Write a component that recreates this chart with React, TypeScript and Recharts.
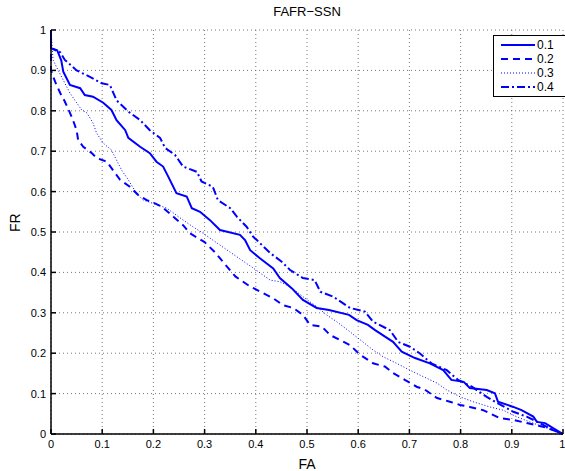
import {
  LineChart,
  Line,
  XAxis,
  YAxis,
  CartesianGrid,
} from 'recharts';

// FA / FR pairs per threshold
const faSeries01 = [0, 0, 0.012, 0.02, 0.024, 0.037, 0.057, 0.066, 0.082, 0.102, 0.118, 0.128, 0.145, 0.151, 0.174, 0.193, 0.206, 0.219, 0.229, 0.245, 0.265, 0.275, 0.291, 0.31, 0.33, 0.369, 0.379, 0.389, 0.408, 0.434, 0.447, 0.47, 0.492, 0.519, 0.543, 0.582, 0.597, 0.619, 0.633, 0.668, 0.685, 0.711, 0.74, 0.766, 0.782, 0.806, 0.818, 0.851, 0.867, 0.873, 0.903, 0.919, 0.942, 0.949, 0.965, 0.98, 1];
const frSeries01 = [1, 0.955, 0.95, 0.925, 0.897, 0.864, 0.856, 0.839, 0.835, 0.82, 0.802, 0.777, 0.752, 0.733, 0.711, 0.695, 0.674, 0.662, 0.637, 0.596, 0.588, 0.559, 0.55, 0.53, 0.505, 0.493, 0.48, 0.455, 0.435, 0.41, 0.386, 0.361, 0.332, 0.312, 0.307, 0.295, 0.282, 0.27, 0.257, 0.228, 0.204, 0.188, 0.175, 0.158, 0.134, 0.129, 0.114, 0.109, 0.101, 0.08, 0.067, 0.059, 0.043, 0.03, 0.027, 0.015, 0];

const faSeries02 = [0, 0, 0.008, 0.018, 0.027, 0.037, 0.043, 0.05, 0.053, 0.063, 0.08, 0.089, 0.109, 0.121, 0.135, 0.154, 0.17, 0.187, 0.203, 0.216, 0.239, 0.258, 0.271, 0.287, 0.3, 0.32, 0.34, 0.36, 0.389, 0.414, 0.434, 0.453, 0.473, 0.492, 0.506, 0.529, 0.545, 0.564, 0.584, 0.604, 0.629, 0.652, 0.668, 0.691, 0.714, 0.73, 0.754, 0.779, 0.799, 0.818, 0.844, 0.877, 0.903, 0.929, 0.961, 0.98, 1];
const frSeries02 = [1, 0.9, 0.872, 0.844, 0.823, 0.795, 0.777, 0.752, 0.728, 0.711, 0.695, 0.683, 0.674, 0.653, 0.629, 0.612, 0.592, 0.579, 0.571, 0.563, 0.538, 0.517, 0.497, 0.485, 0.475, 0.45, 0.42, 0.39, 0.365, 0.349, 0.336, 0.319, 0.312, 0.295, 0.27, 0.266, 0.245, 0.233, 0.22, 0.196, 0.175, 0.167, 0.151, 0.134, 0.117, 0.11, 0.089, 0.08, 0.072, 0.067, 0.059, 0.039, 0.035, 0.027, 0.018, 0.01, 0];

const faSeries03 = [0, 0.004, 0.014, 0.024, 0.037, 0.05, 0.06, 0.07, 0.082, 0.089, 0.102, 0.118, 0.128, 0.138, 0.151, 0.167, 0.18, 0.199, 0.226, 0.252, 0.277, 0.297, 0.316, 0.35, 0.389, 0.428, 0.447, 0.467, 0.492, 0.519, 0.538, 0.558, 0.584, 0.604, 0.629, 0.649, 0.675, 0.701, 0.727, 0.754, 0.773, 0.799, 0.824, 0.857, 0.883, 0.909, 0.935, 0.961, 1];
const frSeries03 = [1, 0.926, 0.9, 0.876, 0.844, 0.82, 0.802, 0.795, 0.77, 0.745, 0.72, 0.703, 0.678, 0.653, 0.629, 0.596, 0.579, 0.571, 0.559, 0.535, 0.513, 0.497, 0.48, 0.45, 0.416, 0.381, 0.377, 0.365, 0.34, 0.315, 0.295, 0.278, 0.253, 0.233, 0.208, 0.191, 0.175, 0.158, 0.142, 0.126, 0.109, 0.092, 0.08, 0.067, 0.059, 0.043, 0.03, 0.018, 0];

const faSeries04 = [0, 0, 0.018, 0.027, 0.05, 0.076, 0.099, 0.115, 0.128, 0.151, 0.174, 0.193, 0.213, 0.223, 0.242, 0.258, 0.285, 0.294, 0.316, 0.326, 0.35, 0.363, 0.382, 0.395, 0.402, 0.428, 0.45, 0.467, 0.492, 0.515, 0.526, 0.551, 0.584, 0.613, 0.629, 0.662, 0.678, 0.701, 0.72, 0.743, 0.773, 0.795, 0.822, 0.851, 0.871, 0.903, 0.929, 0.955, 0.98, 1];
const frSeries04 = [1, 0.955, 0.945, 0.926, 0.9, 0.884, 0.868, 0.864, 0.826, 0.798, 0.777, 0.752, 0.733, 0.708, 0.691, 0.662, 0.649, 0.625, 0.612, 0.579, 0.559, 0.538, 0.513, 0.488, 0.48, 0.448, 0.427, 0.406, 0.386, 0.381, 0.352, 0.34, 0.312, 0.303, 0.278, 0.257, 0.228, 0.216, 0.2, 0.175, 0.158, 0.134, 0.117, 0.092, 0.077, 0.055, 0.043, 0.027, 0.01, 0];

const axisTicks = [0, 0.1, 0.2, 0.3, 0.4, 0.5, 0.6, 0.7, 0.8, 0.9, 1];

const toPoints = (fa: number[], fr: number[]) => fa.map((x, i) => ({ fa: x, fr: fr[i] }));

const series = [
  { name: '0.1', data: toPoints(faSeries01, frSeries01), dash: undefined, width: 2 },
  { name: '0.2', data: toPoints(faSeries02, frSeries02), dash: '7 5', width: 2 },
  { name: '0.3', data: toPoints(faSeries03, frSeries03), dash: '1 2', width: 1 },
  { name: '0.4', data: toPoints(faSeries04, frSeries04), dash: '8 3 2 3', width: 2 },
];

const FONT = '"Liberation Sans", Arial, sans-serif';
const BLUE = '#0000ff';

function LegendBox() {
  return (
    <div
      style={{
        position: 'absolute',
        top: 35,
        left: 493,
        width: 68,
        border: '1.5px solid #000',
        background: '#fff',
        padding: '2px 0 2px 4px',
        fontFamily: FONT,
        fontSize: 12,
        lineHeight: '14px',
        color: '#000',
      }}
    >
      {series.map((s) => (
        <div key={s.name} style={{ display: 'flex', alignItems: 'center' }}>
          <svg width={38} height={14}>
            <line
              x1={3}
              x2={37}
              y1={7}
              y2={7}
              stroke={BLUE}
              strokeWidth={s.width}
              strokeDasharray={s.dash}
            />
          </svg>
          <span style={{ marginLeft: 1 }}>{s.name}</span>
        </div>
      ))}
    </div>
  );
}

export default function App() {
  return (
    <div style={{ position: 'fixed', left: 0, top: 0, width: 565, height: 471, background: '#fff' }}>
      <div
        style={{
          position: 'absolute',
          top: 4,
          left: 51,
          width: 512,
          textAlign: 'center',
          fontFamily: FONT,
          fontSize: 13,
          color: '#000',
        }}
      >
        FAFR−SSN
      </div>
      <LineChart width={565} height={471} margin={{ top: 30, right: 2, bottom: 12, left: 21 }}>
        <CartesianGrid stroke="#555" strokeDasharray="1 3" strokeWidth={0.8} />
        <XAxis
          type="number"
          dataKey="fa"
          domain={[0, 1]}
          ticks={axisTicks}
          height={25}
          stroke="#000"
          strokeWidth={1.5}
          tickSize={-5}
          tickMargin={11}
          tick={{ fill: '#000', fontSize: 11, fontFamily: FONT }}
          label={{ value: 'FA', position: 'insideBottom', offset: -10, fill: '#000', fontSize: 14, fontFamily: FONT }}
        />
        <XAxis
          xAxisId="top"
          orientation="top"
          type="number"
          domain={[0, 1]}
          ticks={axisTicks}
          height={0}
          stroke="#000"
          strokeWidth={1.5}
          tickSize={-5}
          tick={false}
        />
        <YAxis
          type="number"
          domain={[0, 1]}
          ticks={axisTicks}
          width={30}
          stroke="#000"
          strokeWidth={1.5}
          tickSize={-5}
          tickMargin={10}
          tick={{ fill: '#000', fontSize: 11, fontFamily: FONT }}
          label={{ value: 'FR', angle: -90, position: 'insideLeft', offset: -6, fill: '#000', fontSize: 14, fontFamily: FONT }}
        />
        <YAxis
          yAxisId="right"
          orientation="right"
          type="number"
          domain={[0, 1]}
          ticks={axisTicks}
          width={0}
          stroke="#000"
          strokeWidth={1.5}
          tickSize={-5}
          tick={false}
        />
        {series.map((s) => (
          <Line
            key={s.name}
            data={s.data}
            dataKey="fr"
            name={s.name}
            type="linear"
            stroke={BLUE}
            strokeWidth={s.width}
            strokeDasharray={s.dash}
            dot={false}
            isAnimationActive={false}
          />
        ))}
      </LineChart>
      <LegendBox />
    </div>
  );
}
